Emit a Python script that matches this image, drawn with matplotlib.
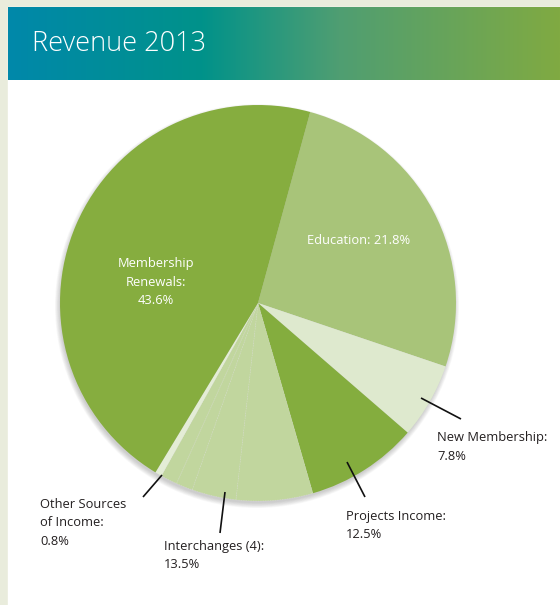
import matplotlib
matplotlib.use("Agg")
import matplotlib.pyplot as plt
import numpy as np
from matplotlib.colors import LinearSegmentedColormap
from matplotlib.patches import Circle

# revenue shares as printed on the chart (percent)
categories = ["Education", "New Membership", "Projects Income",
              "Interchanges (4)", "Other Sources of Income", "Membership Renewals"]
label_pct = [21.8, 7.8, 12.5, 13.5, 0.8, 43.6]
# wedge sizes as actually drawn in the original graphic (degrees, clockwise from Education)
drawn_deg = [93.4, 22.2, 33.0, 45.3, 2.0, 164.1]
# the interchanges wedge is split into 4 sub-wedges
interchange_split = [22.5, 13.0, 4.9, 4.9]

colors = {"Education": "#a8c479", "New Membership": "#dee9ce",
          "Projects Income": "#84ad3e", "Interchanges (4)": "#c1d69e",
          "Other Sources of Income": "#e4edd6", "Membership Renewals": "#86ad3f"}

W, H = 560, 605
fig = plt.figure(figsize=(W / 100, H / 100), dpi=100)
fig.patch.set_facecolor("#e9ecdc")
ax = fig.add_axes([0, 0, 1, 1])
ax.set_xlim(0, W)
ax.set_ylim(0, H)
ax.axis("off")

# white panel + header gradient
ax.add_patch(plt.Rectangle((8, 0), W - 8, H - 7, color="white", zorder=0))
cmap = LinearSegmentedColormap.from_list(
    "hdr", [(0, "#0088aa"), (0.35, "#00928a"), (0.6, "#4f9e72"), (1, "#80aa42")])
grad = np.linspace(0, 1, 256).reshape(1, -1)
ax.imshow(grad, extent=(8, W, H - 80, H - 7), cmap=cmap, aspect="auto", zorder=1)
ax.text(32, H - 44, "Revenue 2013", color="white", fontsize=19.5,
        family="Open Sans", fontweight="light", va="center", ha="left", zorder=2)

cx, cy, r = 258, H - 303, 198

# soft drop shadow
for k in range(8):
    ax.add_patch(Circle((cx - 1, cy - 3), r + 4 - k * 0.7, color="#555555",
                        alpha=0.04, lw=0, zorder=2))

# expand the interchanges wedge into its sub-wedges
sizes, wcolors, edges = [], [], []
for name, d in zip(categories, drawn_deg):
    if name == "Interchanges (4)":
        for s in interchange_split:
            sizes.append(s)
            wcolors.append(colors[name])
            edges.append(True)
    else:
        sizes.append(d)
        wcolors.append(colors[name])
        edges.append(False)

wedges, _ = ax.pie(sizes, colors=wcolors, center=(cx, cy), radius=r,
                   startangle=90 - 15.3, counterclock=False,
                   wedgeprops=dict(linewidth=0))
for w, e in zip(wedges, edges):
    w.set_zorder(3)
    if e:
        w.set_edgecolor((1, 1, 1, 0.2))
        w.set_linewidth(0.5)
        w.set_linestyle((0, (2, 1.5)))
ax.set_xlim(0, W)
ax.set_ylim(0, H)
ax.set_aspect("auto")

font = "Open Sans"
fs = 9.3
ls = 1.55
pct = dict(zip(categories, label_pct))

# labels inside wedges
ax.text(156, H - 282, f"Membership\nRenewals:\n{pct['Membership Renewals']}%",
        color="white", fontsize=fs, family=font, ha="center", va="center",
        linespacing=ls, zorder=4)
ax.text(359, H - 241, f"Education: {pct['Education']}%", color="white",
        fontsize=fs, family=font, ha="center", va="center", zorder=4)

# outside labels with leader lines
outside = [
    ("New Membership:\n", "New Membership", (421, 398), (461, 419), (437, 431)),
    ("Projects Income:\n", "Projects Income", (347, 462), (365, 497), (346, 510)),
    ("Interchanges (4):\n", "Interchanges (4)", (225, 492), (220, 533), (164, 540)),
    ("Other Sources\nof Income:\n", "Other Sources of Income", (162, 475), (143, 497), (40, 498)),
]
for txt, key, p0, p1, tpos in outside:
    ax.plot([p0[0], p1[0]], [H - p0[1], H - p1[1]], color="#111111", lw=1.2,
            zorder=5, solid_capstyle="butt")
    ax.text(tpos[0], H - tpos[1], f"{txt}{pct[key]}%", color="#231f20",
            fontsize=fs, family=font, ha="left", va="top", linespacing=ls,
            zorder=5)

fig.savefig("out.png", dpi=100, facecolor=fig.get_facecolor())
